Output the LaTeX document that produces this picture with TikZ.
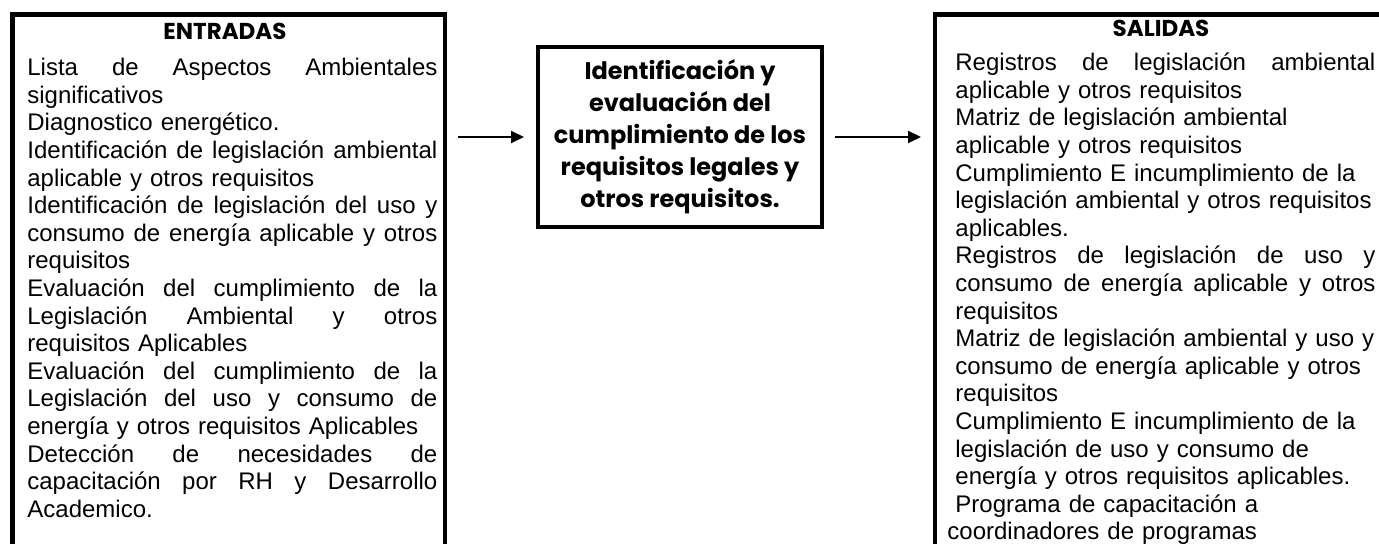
\documentclass[tikz,border=0pt]{standalone}
\usepackage{fontspec}
\setmainfont{Liberation Sans}
\newfontfamily\gotica{Poppins}
\usetikzlibrary{arrows.meta}

% linea justificada
\newcommand{\just}[2]{\makebox[#1][s]{\spaceskip=\fontdimen2\font plus 1fil\relax #2}}

\begin{document}
\begin{tikzpicture}[x=0.5pt,y=-0.5pt,
    caja/.style={draw,line width=2.25pt,inner sep=0pt,outer sep=0pt},
    titulo/.style={font=\gotica\bfseries\fontsize{11.5}{13}\selectfont,anchor=base,inner sep=0pt},
    lista/.style={anchor=north west,inner sep=0pt,align=left,font=\fontsize{12}{13.8}\selectfont},
    flecha/.style={-{Triangle[length=6.5pt,width=6pt]},line width=1pt,shorten <=6.25pt,shorten >=7pt}]
  \clip (0,0) rectangle (1379,544);
  % cajas
  \node[caja,anchor=north west,minimum width=216.25pt,minimum height=300pt] (entradas) at (12.5,14.5) {};
  \node[caja,anchor=north west,minimum width=260pt,minimum height=300pt] (salidas) at (935,14.5) {};
  \node[caja,minimum width=142pt,minimum height=90pt,align=center,
        font=\gotica\bfseries\fontsize{12}{16}\selectfont] (proceso) at (680,137)
    {Identificación y\\evaluación del\\cumplimiento de los\\requisitos legales y\\otros requisitos.};
  % titulos
  \node[titulo] (tEntradas) at (225,40) {ENTRADAS};
  \node[titulo] (tSalidas) at (1161,37) {SALIDAS};
  % entradas
  \node[lista,text width=205pt] (listaE) at (27,56) {%
    \just{205pt}{\strut Lista de Aspectos Ambientales}\\
    significativos\\
    Diagnostico energético.\\
    \just{205pt}{Identificación de legislación ambiental}\\
    aplicable y otros requisitos\\
    \just{205pt}{Identificación de legislación del uso y}\\
    \just{205pt}{consumo de energía aplicable y otros}\\
    requisitos\\
    \just{205pt}{Evaluación del cumplimiento de la}\\
    \just{205pt}{Legislación Ambiental y otros}\\
    requisitos Aplicables\\
    \just{205pt}{Evaluación del cumplimiento de la}\\
    \just{205pt}{Legislación del uso y consumo de}\\
    energía y otros requisitos Aplicables\\
    \just{205pt}{Detección de necesidades de}\\
    \just{205pt}{capacitación por RH y Desarrollo}\\
    Academico.};
  % salidas
  \node[lista,text width=210pt] (listaS) at (955,51) {%
    \just{210pt}{\strut Registros de legislación ambiental}\\
    aplicable y otros requisitos\\
    Matriz de legislación ambiental\\
    aplicable y otros requisitos\\
    Cumplimiento E incumplimiento de la\\
    legislación ambiental y otros requisitos\\
    aplicables.\\
    \just{210pt}{Registros de legislación de uso y}\\
    \just{210pt}{consumo de energía aplicable y otros}\\
    requisitos\\
    Matriz de legislación ambiental y uso y\\
    consumo de energía aplicable y otros\\
    requisitos\\
    Cumplimiento E incumplimiento de la\\
    legislación de uso y consumo de\\
    energía y otros requisitos aplicables.\\
    Programa de capacitación a\\
    \hspace*{-4pt}coordinadores de programas};
  % flechas
  \draw[flecha] (entradas.east |- proceso.west) -- (proceso.west);
  \draw[flecha] (proceso.east) -- (salidas.west |- proceso.east);
\end{tikzpicture}
\end{document}
